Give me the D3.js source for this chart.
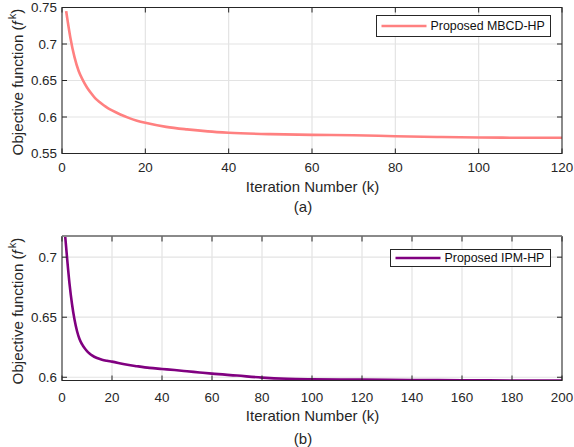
<!DOCTYPE html>
<html>
<head>
<meta charset="utf-8">
<script src="https://cdn.jsdelivr.net/npm/d3@7"></script>
<style>
  body { margin: 0; background: #fff; }
  svg { font-family: "Liberation Sans", Arial, Helvetica, sans-serif; }
</style>
</head>
<body>
<div id="chart"></div>
<script>
// panel (a): MBCD-HP convergence
const iterA = [1, 2, 3, 4, 5, 6, 7, 8, 9, 10, 11, 12, 14, 16, 18, 20, 25, 30, 35, 40, 50, 60, 70, 80, 90, 100, 110, 120]
const objA = [0.745, 0.709, 0.682, 0.663, 0.6505, 0.6405, 0.6325, 0.6255, 0.6205, 0.616, 0.6122, 0.609, 0.6035, 0.5988,
  0.595, 0.592, 0.5865, 0.583, 0.5803, 0.5785, 0.5765, 0.5755, 0.575, 0.5737, 0.5727, 0.5719, 0.5716, 0.5715]
const xTicksA = [0, 20, 40, 60, 80, 100, 120]
const yTicksA = [0.55, 0.6, 0.65, 0.7, 0.75]

// panel (b): IPM-HP convergence
const iterB = [1, 2, 3, 4, 5, 6, 7, 8, 9, 10, 11, 12, 14, 16, 18, 20, 25, 30, 35, 40, 45, 50, 55, 60, 70, 80, 90, 100, 120, 140, 160, 180, 200]
const objB = [0.724, 0.7, 0.678, 0.661, 0.648, 0.6385, 0.6318, 0.6275, 0.6243, 0.6218, 0.6198, 0.6182, 0.616, 0.6146,
  0.6137, 0.613, 0.6108, 0.6092, 0.6078, 0.6069, 0.606, 0.605, 0.604, 0.603, 0.6014, 0.5997, 0.5987, 0.5983,
  0.598, 0.5977, 0.5975, 0.5973, 0.5972]
const xTicksB = [0, 20, 40, 60, 80, 100, 120, 140, 160, 180, 200]
const yTicksB = [0.6, 0.65, 0.7]

const width = 574, height = 447
const ink = '#262626'

const svg = d3.select('#chart').append('svg')
  .attr('width', width)
  .attr('height', height)

function drawPanel(opt) {
  const x = d3.scaleLinear().domain(opt.xDomain).range([opt.left, opt.right])
  const y = d3.scaleLinear().domain(opt.yDomain).range([opt.bottom, opt.top])
  const g = svg.append('g')

  // grid
  g.selectAll('.gx').data(opt.xTicks).enter().append('line')
    .attr('x1', d => x(d)).attr('x2', d => x(d))
    .attr('y1', opt.top).attr('y2', opt.bottom)
    .attr('stroke', '#e3e3e3').attr('stroke-width', 1.2)
  g.selectAll('.gy').data(opt.yTicks).enter().append('line')
    .attr('x1', opt.left).attr('x2', opt.right)
    .attr('y1', d => y(d)).attr('y2', d => y(d))
    .attr('stroke', '#e3e3e3').attr('stroke-width', 1.2)

  // curve, clipped to the axes box
  const clipId = 'clip-' + opt.name
  svg.append('clipPath').attr('id', clipId).append('rect')
    .attr('x', opt.left).attr('y', opt.top)
    .attr('width', opt.right - opt.left).attr('height', opt.bottom - opt.top)
  const line = d3.line()
    .x(d => x(d[0]))
    .y(d => y(d[1]))
    .curve(d3.curveMonotoneX)
  g.append('path')
    .datum(opt.xs.map((k, i) => [k, opt.ys[i]]))
    .attr('clip-path', 'url(#' + clipId + ')')
    .attr('d', line)
    .attr('fill', 'none')
    .attr('stroke', opt.color)
    .attr('stroke-width', 2.6)
    .attr('stroke-linejoin', 'round')

  // box, matlab style inward ticks on all four sides
  g.append('rect')
    .attr('x', opt.left).attr('y', opt.top)
    .attr('width', opt.right - opt.left).attr('height', opt.bottom - opt.top)
    .attr('fill', 'none').attr('stroke', ink).attr('stroke-width', 1)
  if (opt.greyTop) {
    g.append('line')
      .attr('x1', opt.left).attr('x2', opt.right)
      .attr('y1', opt.top - 0.5).attr('y2', opt.top - 0.5)
      .attr('stroke', '#8a8a8a').attr('stroke-width', 2)
  }
  const tl = 5
  g.selectAll('.tb').data(opt.xTicks).enter().append('line')
    .attr('x1', d => x(d)).attr('x2', d => x(d))
    .attr('y1', opt.bottom).attr('y2', opt.bottom - tl)
    .attr('stroke', ink)
  g.selectAll('.tt').data(opt.xTicks).enter().append('line')
    .attr('x1', d => x(d)).attr('x2', d => x(d))
    .attr('y1', opt.top).attr('y2', opt.top + tl)
    .attr('stroke', ink)
  g.selectAll('.tlft').data(opt.yTicks).enter().append('line')
    .attr('x1', opt.left).attr('x2', opt.left + tl)
    .attr('y1', d => y(d)).attr('y2', d => y(d))
    .attr('stroke', ink)
  g.selectAll('.trt').data(opt.yTicks).enter().append('line')
    .attr('x1', opt.right).attr('x2', opt.right - tl)
    .attr('y1', d => y(d)).attr('y2', d => y(d))
    .attr('stroke', ink)

  // tick labels
  g.selectAll('.lx').data(opt.xTicks).enter().append('text')
    .attr('x', d => x(d)).attr('y', opt.xLabelY)
    .attr('text-anchor', 'middle')
    .attr('font-size', 13.4).attr('fill', ink)
    .text(d => d)
  g.selectAll('.ly').data(opt.yTicks).enter().append('text')
    .attr('x', opt.left - 5).attr('y', d => y(d))
    .attr('dy', '0.36em')
    .attr('text-anchor', 'end')
    .attr('font-size', 13.4).attr('fill', ink)
    .text(d => d3.format('~g')(d))

  // axis titles
  g.append('text')
    .attr('x', (opt.left + opt.right) / 2 + 0.5).attr('y', opt.titleY)
    .attr('text-anchor', 'middle').attr('font-size', 15).attr('fill', ink)
    .text('Iteration Number (k)')
  g.append('text')
    .attr('x', (opt.left + opt.right) / 2 - 9).attr('y', opt.capY)
    .attr('text-anchor', 'middle').attr('font-size', 15).attr('fill', ink)
    .text(opt.caption)

  const yl = g.append('text')
    .attr('transform', 'translate(23,' + opt.yTitleMid + ') rotate(-90)')
    .attr('text-anchor', 'middle').attr('font-size', 15.2).attr('fill', ink)
  yl.append('tspan').text('Objective function (')
  yl.append('tspan').attr('font-style', 'italic').text('f')
  yl.append('tspan').attr('font-size', 11).attr('dy', '-0.6em').attr('dx', 2).text('k')
  yl.append('tspan').attr('dy', '0.4em').text(')')

  // legend
  const lg = g.append('g')
  lg.append('rect')
    .attr('x', opt.leg.x).attr('y', opt.leg.y)
    .attr('width', opt.leg.w).attr('height', opt.leg.h)
    .attr('fill', '#fff').attr('stroke', ink).attr('stroke-width', 1)
  lg.append('line')
    .attr('x1', opt.leg.x + 5).attr('x2', opt.leg.x + 50)
    .attr('y1', opt.leg.y + opt.leg.h / 2).attr('y2', opt.leg.y + opt.leg.h / 2)
    .attr('stroke', opt.color).attr('stroke-width', 2.6)
  lg.append('text')
    .attr('x', opt.leg.x + 54).attr('y', opt.leg.y + opt.leg.h / 2)
    .attr('dy', '0.36em')
    .attr('font-size', opt.leg.fs).attr('fill', '#111')
    .text(opt.label)
}

drawPanel({
  name: 'a', xs: iterA, ys: objA, color: '#ff8080', label: 'Proposed MBCD-HP', caption: '(a)',
  xDomain: [0, 120], yDomain: [0.55, 0.75], xTicks: xTicksA, yTicks: yTicksA,
  left: 62, right: 562, top: 7.5, bottom: 153.5,
  xLabelY: 172, titleY: 192, capY: 212, yTitleMid: 82,
  leg: { x: 376.5, y: 15.5, w: 174, h: 21, fs: 12.4 }
})

drawPanel({
  name: 'b', xs: iterB, ys: objB, color: '#800080', label: 'Proposed IPM-HP', caption: '(b)',
  xDomain: [0, 200], yDomain: [0.5973, 0.7172], xTicks: xTicksB, yTicks: yTicksB,
  left: 62, right: 562, top: 236.5, bottom: 380.5, greyTop: true,
  xLabelY: 401.5, titleY: 421, capY: 444, yTitleMid: 311,
  leg: { x: 390.5, y: 249.5, w: 160, h: 17, fs: 12.4 }
})
</script>
</body>
</html>
